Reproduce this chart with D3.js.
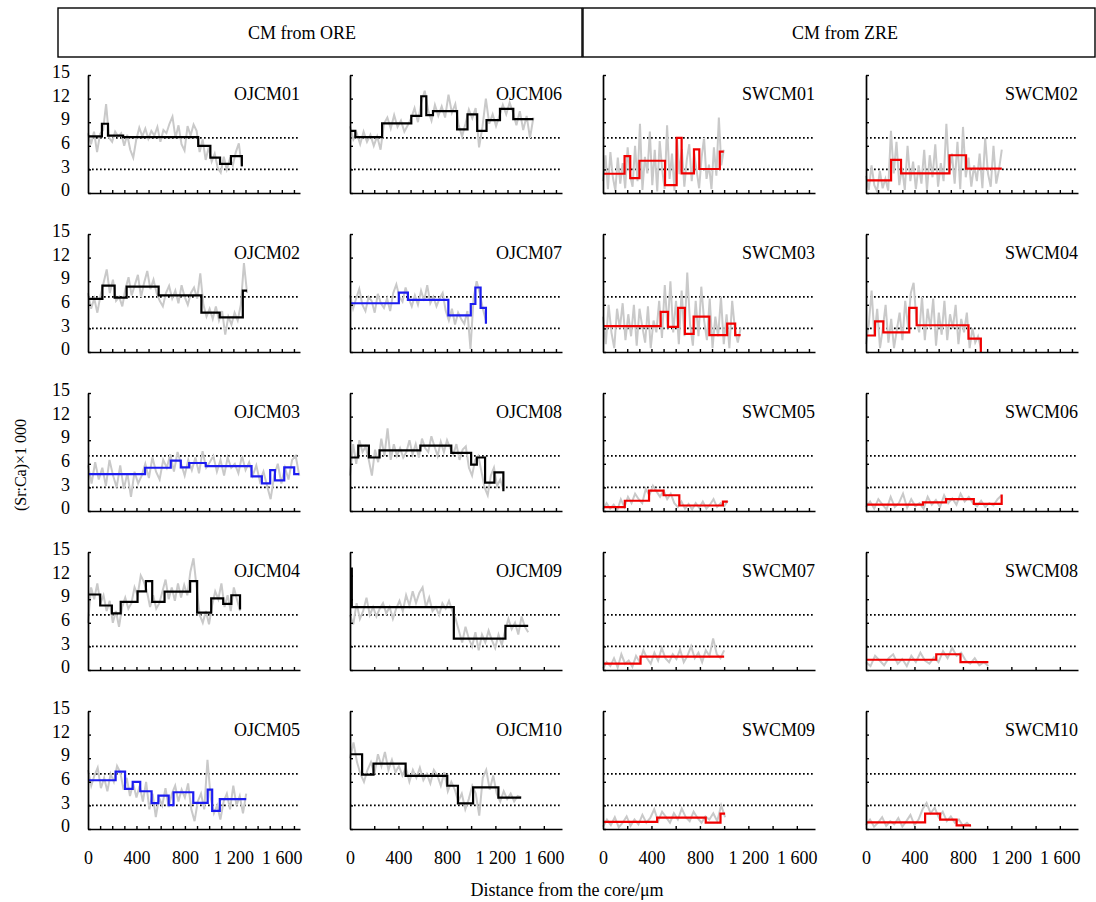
<!DOCTYPE html>
<html>
<head>
<meta charset="utf-8">
<script src="https://cdn.jsdelivr.net/npm/d3@7"></script>
<style>
  body { margin: 0; background: #fff; }
  svg { display: block; }
  text { font-family: "Liberation Serif", "Times New Roman", serif; fill: #000; }
</style>
</head>
<body>
<svg id="chart" width="1096" height="902"></svg>
<script>
// panel names in grid order (5 rows x 4 columns)
const names = [
  "OJCM01", "OJCM06", "SWCM01", "SWCM02",
  "OJCM02", "OJCM07", "SWCM03", "SWCM04",
  "OJCM03", "OJCM08", "SWCM05", "SWCM06",
  "OJCM04", "OJCM09", "SWCM07", "SWCM08",
  "OJCM05", "OJCM10", "SWCM09", "SWCM10"
];
const blueOnes = ["OJCM03", "OJCM05", "OJCM07"];
const coarseTicks = ["OJCM09", "OJCM10", "SWCM07", "SWCM08", "SWCM09", "SWCM10"];
const refLevels = [7, 3];
const yTicks = [0, 3, 6, 9, 12, 15];
const xLabels = [0, 400, 800, 1200, 1600];

// step (mean) lines: [distance µm, Sr:Ca x1000]
const steps = {};
const raw = {};

steps.OJCM01 = [[0,7.2],[115,8.8],[165,7.3],[290,7.1],[910,6.0],[1010,4.5],[1090,3.7],[1180,4.7],[1270,3.4]];
raw.OJCM01 = [7.6,6.2,7.8,5.2,7.5,8.0,11.3,7.0,6.5,7.8,7.2,7.6,6.0,7.4,5.5,4.5,6.8,8.3,7.2,8.2,6.9,7.9,7.3,8.4,6.5,8.0,7.6,8.8,9.7,7.0,8.6,6.2,5.4,8.5,7.3,8.7,7.9,5.2,6.8,4.2,5.8,4.0,5.0,3.2,2.6,4.6,3.0,4.3,3.5,5.2,6.3,3.3];

steps.OJCM06 = [[0,7.9],[44,7.1],[265,8.85],[506,9.8],[588,12.3],[630,9.9],[685,10.4],[884,8.1],[970,10.0],[1050,7.9],[1127,9.26],[1238,10.7],[1348,9.4],[1514,9.4]];
raw.OJCM06 = [8.5,6.8,7.6,6.2,7.8,6.5,7.4,6.0,7.2,5.5,8.8,9.6,8.2,9.9,8.4,9.2,7.8,8.6,9.5,10.8,9.0,11.5,13.0,10.5,9.2,11.2,9.8,11.0,9.6,12.5,10.2,11.3,8.6,7.2,8.8,10.6,9.5,10.8,5.8,8.4,12.0,8.8,10.0,8.5,9.8,11.2,10.0,11.5,10.2,8.6,10.4,8.0,9.8,7.0,9.6];

steps.SWCM01 = [[0,2.45],[178,4.7],[225,1.9],[301,4.1],[512,1.0],[608,7.0],[649,2.5],[751,5.55],[795,3.05],[964,5.25],[997,5.25]];
raw.SWCM01 = [1.5,4.8,0.5,5.2,2.0,0.3,4.5,1.2,3.8,0.6,5.8,2.2,0.8,6.0,1.5,8.8,0.4,4.6,2.5,7.8,1.0,5.5,0.2,6.6,3.0,0.5,8.6,1.8,5.0,0.3,7.0,2.4,5.6,0.8,4.2,6.2,1.5,5.0,2.8,0.6,4.5,7.0,1.8,3.6,0.5,5.8,2.2,9.6,3.5,5.5];

steps.SWCM02 = [[0,1.6],[207,4.2],[289,2.5],[689,4.8],[826,3.1],[1121,3.1]];
raw.SWCM02 = [2.2,0.4,3.5,1.0,0.2,2.8,0.6,1.8,0.3,7.9,2.5,6.5,1.0,3.2,0.4,6.0,1.5,4.0,0.5,3.5,1.2,5.5,0.3,4.8,2.0,6.2,0.8,3.8,1.5,8.8,2.5,5.0,1.2,6.5,0.5,8.4,2.0,4.5,0.8,3.5,1.5,5.0,0.6,7.0,2.5,0.8,6.0,1.2,3.0,5.5];

steps.OJCM02 = [[0,6.76],[119,8.45],[220,6.9],[319,8.3],[583,7.2],[936,5.0],[1087,4.4],[1278,7.8],[1313,7.8]];
raw.OJCM02 = [7.5,5.5,6.8,5.0,7.2,8.8,10.5,7.5,9.2,6.5,7.0,5.8,8.0,9.5,7.2,8.5,9.8,7.0,8.8,10.3,8.0,9.2,7.5,6.5,5.8,7.5,8.4,6.8,7.8,6.2,8.5,7.0,6.0,7.5,8.2,6.8,10.0,6.0,4.5,5.5,4.2,5.8,4.0,5.2,2.2,4.5,3.5,5.0,4.0,6.0,11.3,7.5];

steps.OJCM07 = [[0,6.2],[403,7.56],[478,6.63],[812,4.65],[997,6.1],[1035,8.2],[1078,5.6],[1122,3.6]];
raw.OJCM07 = [7.2,5.5,6.8,8.0,6.0,5.2,7.0,6.5,5.0,7.4,6.2,5.6,6.8,5.2,7.5,8.6,7.0,6.4,8.2,6.8,5.8,7.2,6.0,7.8,6.5,8.5,6.2,7.0,5.8,6.8,7.5,5.2,4.0,5.5,3.5,5.0,4.2,3.6,5.2,0.4,6.8,9.0,7.5,5.5,4.0];

steps.SWCM03 = [[0,3.3],[476,5.1],[537,3.2],[620,5.6],[676,2.3],[748,4.5],[878,2.15],[1025,3.6],[1091,2.15],[1136,2.15]];
raw.SWCM03 = [4.5,1.0,6.0,2.5,0.5,5.5,3.0,6.2,1.5,4.8,2.0,6.0,0.8,5.5,3.2,1.2,5.8,0.5,4.0,2.5,6.5,1.8,8.5,3.0,9.0,2.5,6.5,1.0,7.8,2.0,10.1,3.5,0.8,6.5,2.0,8.3,4.0,1.5,6.8,0.5,4.5,2.0,7.0,1.0,4.8,0.5,6.5,2.8,1.2,3.0];

steps.SWCM04 = [[0,2.1],[74,3.9],[143,2.5],[357,5.6],[418,3.4],[846,1.7],[948,0]];
raw.SWCM04 = [1.0,3.5,7.8,2.0,5.5,0.5,3.0,6.0,1.2,4.2,0.5,2.8,5.0,1.5,6.5,3.2,7.5,8.8,4.0,2.5,7.0,1.5,5.5,3.0,6.8,0.8,5.0,2.2,6.5,1.5,4.8,3.0,6.0,1.0,4.2,2.5,5.0,0.5,3.0,1.2,2.0,0.5];

steps.OJCM03 = [[0,4.7],[471,5.5],[683,6.4],[766,5.55],[835,6.1],[972,5.7],[1350,4.4],[1435,3.5],[1504,5.2],[1543,3.9],[1620,5.55],[1702,4.7],[1744,4.7]];
raw.OJCM03 = [5.8,3.5,6.2,4.0,5.5,3.2,6.5,4.5,3.0,5.8,2.8,4.8,1.8,5.0,3.5,4.5,6.0,4.2,6.8,5.0,4.0,6.5,5.5,7.2,5.0,7.5,6.0,4.5,6.5,5.2,6.8,4.8,7.6,5.5,6.2,7.0,5.0,6.5,4.5,6.8,5.5,6.0,4.8,7.0,5.2,6.2,4.5,5.8,3.8,5.0,3.2,1.5,4.5,6.0,3.5,5.5,4.0,6.5,7.0,4.5];

steps.OJCM08 = [[0,6.8],[68,8.3],[156,6.8],[244,7.7],[581,8.3],[836,7.4],[1000,5.9],[1047,6.8],[1115,3.6],[1192,4.9],[1266,2.5]];
raw.OJCM08 = [4.5,8.5,6.0,9.0,7.5,8.2,6.5,4.5,7.8,6.2,9.2,7.0,10.5,6.5,8.5,7.0,8.0,6.8,7.5,9.0,7.2,8.5,6.8,9.2,8.0,7.5,9.5,8.2,7.0,8.8,7.5,9.0,8.0,7.2,8.5,6.5,7.8,8.2,5.5,4.5,6.5,7.0,5.0,3.0,2.0,4.5,5.5,3.2,4.0,2.8];

steps.SWCM05 = [[0,0.5],[180,1.3],[380,2.6],[500,2.0],[630,0.7],[990,1.2],[1030,1.2]];
raw.SWCM05 = [0.2,1.0,0.3,0.8,0.1,1.5,0.5,1.8,1.0,2.2,1.5,1.0,2.8,2.0,3.2,2.5,1.8,2.6,1.5,2.2,1.0,0.5,1.2,0.3,0.9,0.2,1.0,0.4,1.2,0.3,0.8,1.5,0.5,1.0,0.6,1.3];

steps.SWCM06 = [[0,0.8],[470,1.1],[660,1.5],[890,0.9],[1120,2.1]];
raw.SWCM06 = [0.5,1.2,0.3,1.5,0.8,0.2,1.8,0.5,1.0,2.2,0.4,1.5,0.6,1.0,0.3,1.8,0.8,1.4,0.5,2.0,1.0,1.6,0.8,2.2,1.2,1.8,1.0,0.6,1.3,0.5,1.0,0.7,1.5,2.0];

steps.OJCM04 = [[0,9.6],[101,8.2],[197,7.2],[270,8.65],[409,10.0],[478,11.3],[530,8.65],[632,9.96],[843,11.3],[901,7.3],[1017,9.1],[1116,8.4],[1183,9.5],[1255,7.7]];
raw.OJCM04 = [6.0,10.5,9.0,11.0,8.5,9.5,7.5,8.8,6.0,7.5,5.5,8.0,9.2,7.8,8.5,10.5,9.5,12.0,11.2,10.0,8.0,9.5,7.8,8.5,10.0,11.5,9.0,10.5,8.8,11.0,9.2,10.8,9.5,12.5,14.2,10.5,7.0,6.0,7.5,5.8,8.2,10.0,9.0,11.0,8.0,9.5,7.5,10.5,9.0,7.5];

steps.OJCM09 = [[0,12.9],[15,8.0],[857,4.0],[1283,5.6],[1471,5.6]];
raw.OJCM09 = [7.0,5.8,8.5,6.5,7.5,9.2,7.0,8.0,6.8,7.8,8.5,7.2,8.0,6.5,7.8,8.8,7.5,9.5,8.2,10.0,8.5,9.8,10.5,8.0,9.2,7.5,8.0,7.0,8.5,7.8,8.8,7.5,6.5,5.0,3.5,5.5,4.0,3.0,4.8,2.5,4.5,3.5,5.0,3.8,2.8,4.5,3.2,5.0,6.5,5.2,6.0,4.5,6.8,5.5,4.8];

steps.SWCM07 = [[0,0.8],[310,1.7],[1000,1.7]];
raw.SWCM07 = [0.2,1.0,0.5,1.5,0.3,2.0,0.8,1.2,0.4,1.8,1.0,2.5,1.5,0.8,2.2,1.2,2.8,1.5,1.0,2.0,1.4,2.6,1.0,1.8,3.0,1.5,2.2,1.0,2.5,1.8,4.0,2.0,1.5,2.5];

steps.SWCM08 = [[0,1.3],[580,2.0],[780,1.0],[1010,1.0]];
raw.SWCM08 = [1.0,0.5,1.8,1.2,0.6,1.5,2.0,0.8,1.4,0.5,1.8,1.0,2.2,1.2,0.8,1.6,1.0,2.4,1.5,2.8,1.8,2.2,1.2,0.8,1.5,0.6,1.0,0.5];

steps.OJCM05 = [[0,6.2],[228,7.3],[306,5.1],[369,6.0],[431,4.8],[525,3.3],[581,4.25],[666,3.04],[706,4.67],[869,3.33],[988,5.0],[1025,2.3],[1088,3.8],[1306,3.8]];
raw.OJCM05 = [7.5,5.5,6.8,7.8,5.2,6.5,4.8,7.0,6.0,8.0,7.2,5.0,6.5,4.2,5.8,4.0,5.5,3.5,6.0,2.5,4.5,1.5,4.0,3.0,5.2,2.8,4.5,5.5,3.5,5.0,4.0,5.8,2.5,1.0,3.5,4.5,2.5,8.8,4.0,2.0,3.0,1.2,3.5,4.5,2.5,5.5,3.0,4.2,2.0,4.5];

steps.OJCM10 = [[0,9.5],[100,6.9],[194,8.3],[459,6.75],[803,5.5],[891,3.25],[1016,5.3],[1225,4.0],[1413,4.0]];
raw.OJCM10 = [9.0,11.0,8.5,7.0,6.0,7.5,8.5,7.0,9.5,8.0,9.8,7.5,8.8,7.2,8.0,6.8,7.8,6.0,7.5,6.5,7.8,6.2,7.0,5.8,7.5,6.8,5.5,7.2,4.8,6.0,5.0,3.5,4.5,2.5,3.8,5.5,4.5,1.7,6.5,7.5,5.0,6.8,4.5,3.5,4.8,3.8,4.5,3.5,4.2,4.0];

steps.SWCM09 = [[0,0.9],[447,1.45],[848,0.8],[970,1.95],[1008,1.95]];
raw.SWCM09 = [0.3,1.2,0.5,1.5,0.2,0.8,1.6,0.4,1.2,0.6,1.8,0.8,1.4,2.5,1.0,2.2,1.5,0.8,2.0,1.2,2.6,1.5,1.0,2.2,1.4,0.8,1.6,1.2,2.0,1.0,3.0,1.5];

steps.SWCM10 = [[0,0.85],[488,1.95],[612,1.2],[748,0.45],[867,0.45]];
raw.SWCM10 = [0.5,1.2,0.3,0.8,1.5,0.4,1.0,0.6,1.4,0.3,1.0,1.8,0.5,1.2,2.5,3.3,2.0,2.7,1.5,2.2,1.0,1.6,0.8,1.2,0.4,0.8,0.3];

// layout
const colX = [88, 350, 603, 866];
const rowTop = 75, rowGap = 159, plotH = 118, plotW = 212;
const xMax = 1750;

const svg = d3.select("#chart");
const fmt = d3.formatLocale({ decimal: ".", thousands: " ", grouping: [3], currency: ["", ""] }).format(",");

// header boxes
const headers = [
  { label: "CM from ORE", x0: 58, x1: 582, tx: 302 },
  { label: "CM from ZRE", x0: 583, x1: 1095, tx: 845 }
];
svg.selectAll("rect.head").data(headers).join("rect")
  .attr("class", "head")
  .attr("x", d => d.x0).attr("y", 8)
  .attr("width", d => d.x1 - d.x0).attr("height", 49)
  .attr("fill", "none").attr("stroke", "#000").attr("stroke-width", 1.4);
svg.selectAll("text.head").data(headers).join("text")
  .attr("class", "head")
  .attr("x", d => d.tx).attr("y", 33)
  .attr("dy", "0.35em").attr("text-anchor", "middle")
  .attr("font-size", 18).text(d => d.label);

const x = d3.scaleLinear().domain([0, xMax]).range([0, plotW]);
const y = d3.scaleLinear().domain([0, 15]).range([plotH, 0]);

names.forEach((name, i) => {
  const row = Math.floor(i / 4), col = i % 4;
  const g = svg.append("g").attr("transform", `translate(${colX[col]},${rowTop + row * rowGap})`);
  const st = steps[name];
  const rv = raw[name];
  const end = st[st.length - 1][0];
  const dx = end / (rv.length - 1);

  // reference dotted lines
  g.selectAll("line.ref").data(refLevels).join("line")
    .attr("x1", x(0)).attr("x2", x(xMax))
    .attr("y1", d => y(d)).attr("y2", d => y(d))
    .attr("stroke", "#000").attr("stroke-width", 1.7)
    .attr("stroke-dasharray", "1.7 2.3");

  // raw signal
  g.append("path")
    .attr("d", d3.line().x((d, j) => x(j * dx)).y(d => y(d))(rv))
    .attr("fill", "none").attr("stroke", "#c9c9c9").attr("stroke-width", 2);

  // step mean line
  const color = name.startsWith("SW") ? "#f00000" : (blueOnes.includes(name) ? "#1c1cf0" : "#000");
  g.append("path")
    .attr("d", d3.line().curve(d3.curveStepAfter).x(d => x(d[0])).y(d => y(d[1]))(st))
    .attr("fill", "none").attr("stroke", color).attr("stroke-width", 2.2);

  // axes
  const yAxis = d3.axisLeft(y).tickValues(yTicks).tickSize(-3).tickSizeOuter(0).tickPadding(18)
    .tickFormat(col === 0 ? d3.format("d") : "");
  const ya = g.append("g").call(yAxis);
  ya.selectAll(".tick text").attr("y", -3);

  const tStep = coarseTicks.includes(name) ? 200 : 100;
  const xAxis = d3.axisBottom(x).tickValues(d3.range(tStep, xMax, tStep).concat(row === 4 ? [0] : []))
    .tickSize(-3).tickSizeOuter(0).tickPadding(22)
    .tickFormat(d => (row === 4 && xLabels.includes(d)) ? fmt(d) : "");
  const xa = g.append("g").attr("transform", `translate(0,${plotH})`).call(xAxis);

  [ya, xa].forEach(a => {
    a.select(".domain").attr("stroke", "#000").attr("stroke-width", 1.7);
    a.selectAll(".tick line").attr("stroke", "#000").attr("stroke-width", 1.4);
    a.selectAll("text").attr("font-size", 18).attr("font-family", "Liberation Serif, serif").attr("fill", "#000");
  });
  xa.selectAll(".tick").filter(d => d === 0).select("line").remove();

  // panel label
  g.append("text").attr("x", x(xMax)).attr("y", 19).attr("dy", "0.35em")
    .attr("text-anchor", "end").attr("font-size", 18).text(name);
});

// axis titles
svg.append("text").attr("transform", "translate(20,465) rotate(-90)")
  .attr("text-anchor", "middle").attr("dy", "0.35em").attr("font-size", 16)
  .text("(Sr:Ca)×1 000");
svg.append("text").attr("x", 567).attr("y", 890).attr("dy", "0.35em")
  .attr("text-anchor", "middle").attr("font-size", 18)
  .text("Distance from the core/μm");
</script>
</body>
</html>
